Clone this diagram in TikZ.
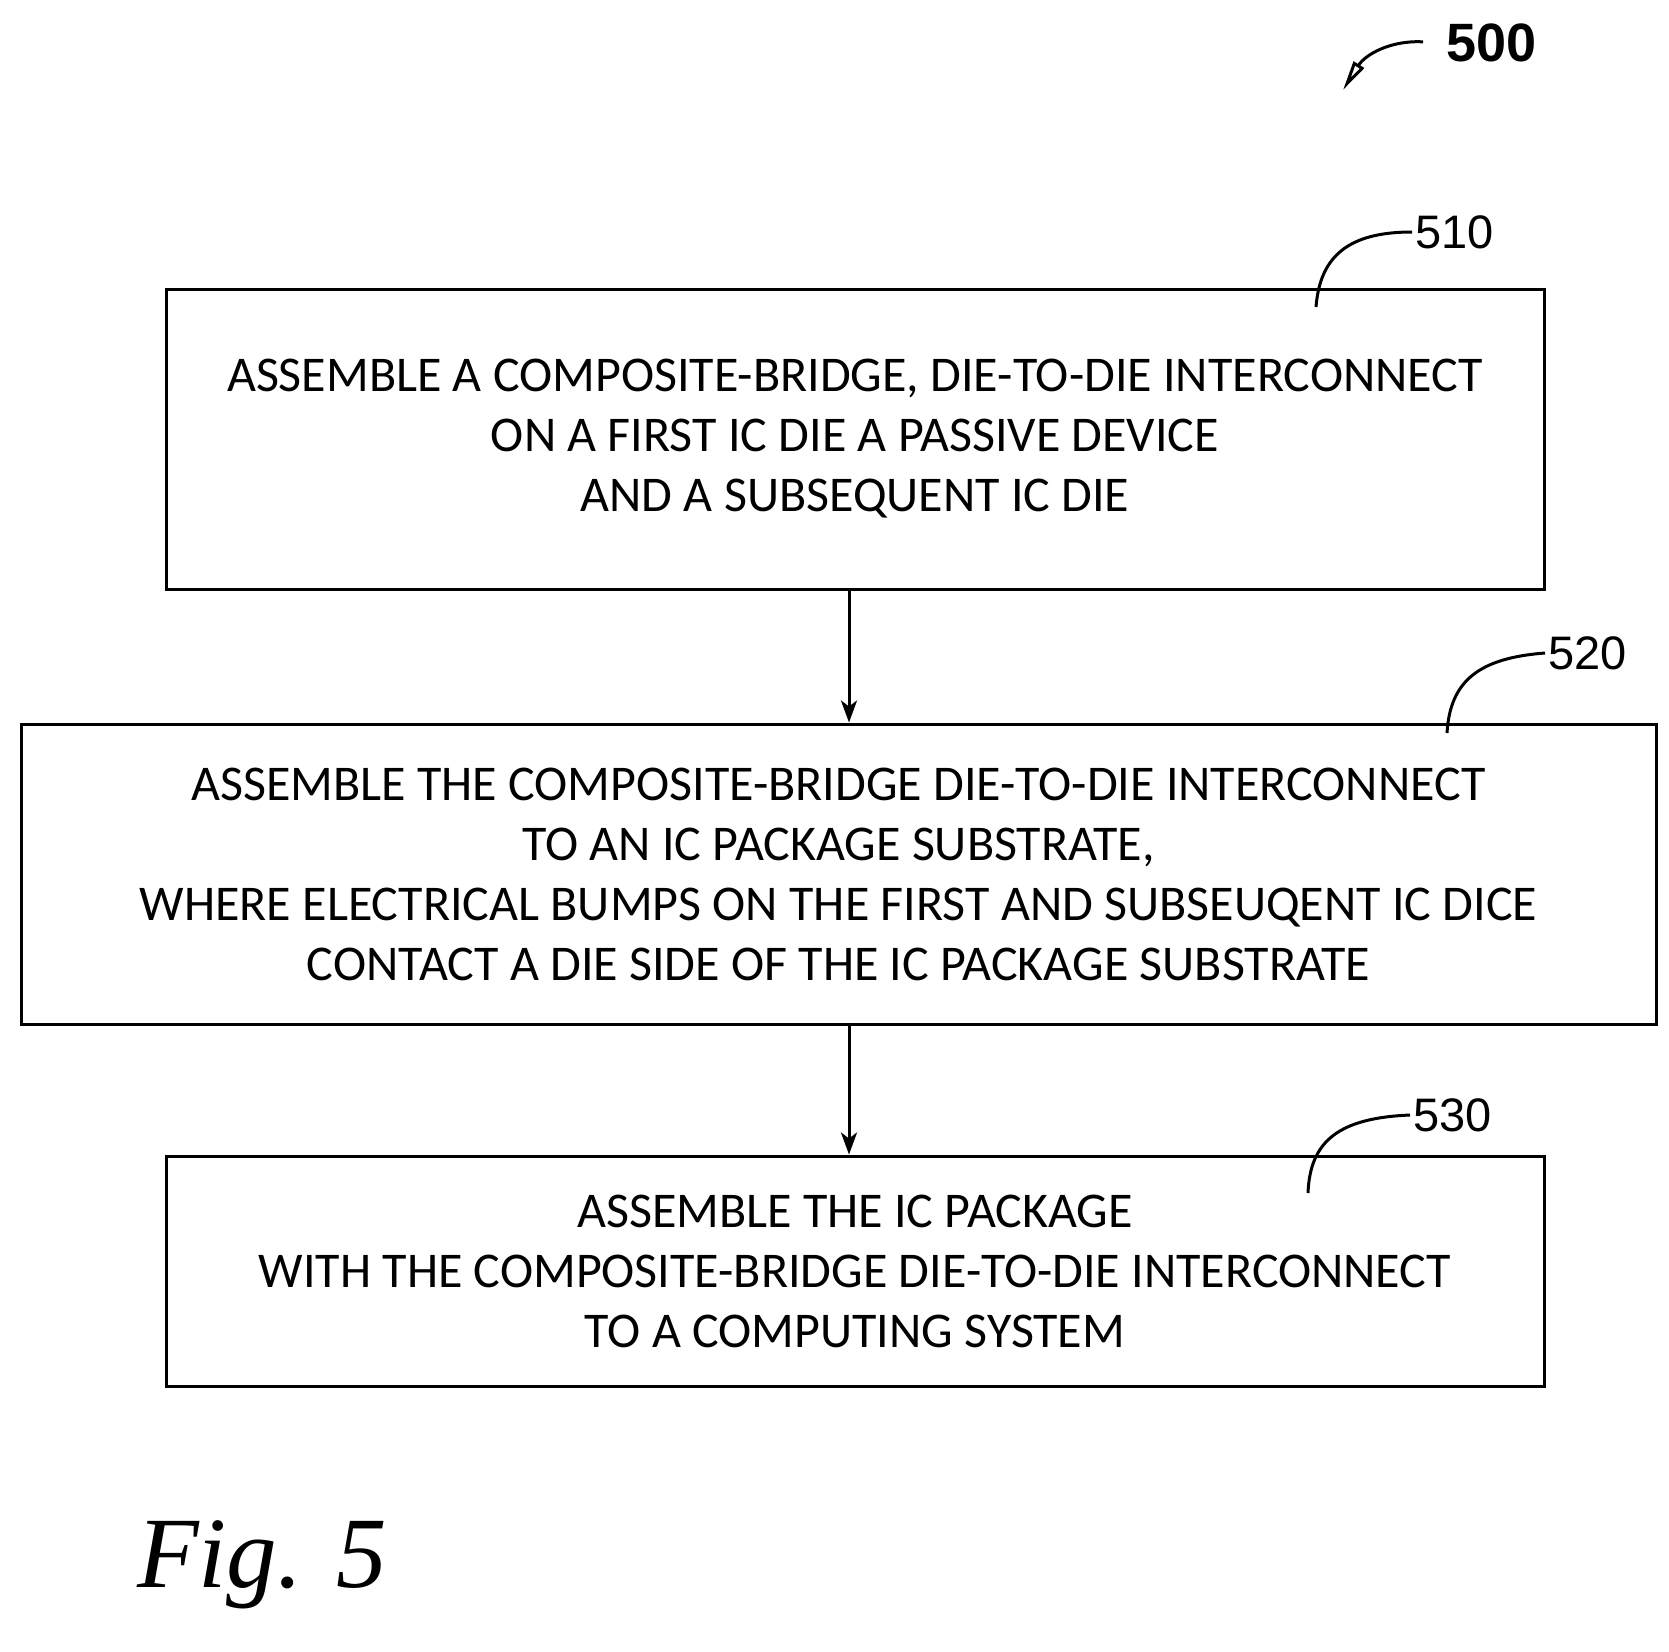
\documentclass[tikz,border=0pt]{standalone}
\usepackage{fontspec}
\setmainfont{Carlito}
\newfontfamily\labelfont{Liberation Sans}
\newfontfamily\figfont{Liberation Serif}
\usetikzlibrary{arrows.meta, positioning}

\begin{document}
\begin{tikzpicture}[
   x=1pt, y=-1pt,
   line width=3pt,
   stepbox/.style={
     draw,
     align=center,
     inner sep=0pt,
     font=\fontsize{50}{60}\selectfont,
    },
   ref/.style={
     font=\labelfont\fontsize{47}{50}\selectfont,
     inner sep=2pt,
    },
  ]
\useasboundingbox (0,0) rectangle (1669,1651);

\node[stepbox, minimum width=1378pt, minimum height=300pt] (s510) at (855,439)
  {ASSEMBLE A COMPOSITE-BRIDGE, DIE-TO-DIE INTERCONNECT\\
   ON A FIRST IC DIE A PASSIVE DEVICE\\
   AND A SUBSEQUENT IC DIE};
\node[stepbox, minimum width=1635pt, minimum height=300pt] (s520) at (838.5,874)
  {ASSEMBLE THE COMPOSITE-BRIDGE DIE-TO-DIE INTERCONNECT\\
   TO AN IC PACKAGE SUBSTRATE,\\
   WHERE ELECTRICAL BUMPS ON THE FIRST AND SUBSEUQENT IC DICE\\
   CONTACT A DIE SIDE OF THE IC PACKAGE SUBSTRATE};
\node[stepbox, minimum width=1378pt, minimum height=230pt] (s530) at (855,1271)
  {ASSEMBLE THE IC PACKAGE\\
   WITH THE COMPOSITE-BRIDGE DIE-TO-DIE INTERCONNECT\\
   TO A COMPUTING SYSTEM};

\draw[-{Stealth[length=22pt,width=16pt,inset=6pt]}] (s510.south -| 849,0) -- (s520.north -| 849,0);
\draw[-{Stealth[length=22pt,width=16pt,inset=6pt]}] (s520.south -| 849,0) -- (s530.north -| 849,0);

% reference numerals
\node[ref, anchor=west] (n510) at (1412,232) {510};
\node[ref, anchor=west] (n520) at (1545,653) {520};
\node[ref, anchor=west] (n530) at (1410,1115) {530};
\node[ref, anchor=west, font=\labelfont\bfseries\fontsize{54}{56}\selectfont] (n500) at (1443,43) {500};
\draw (n510.west) .. controls (1350,232) and (1320,255) .. (1316,307);
\draw (n520.west) .. controls (1480,658) and (1450,680) .. (1447,733);
\draw (n530.west) .. controls (1340,1118) and (1310,1140) .. (1308,1193);
\draw[shorten <=20pt, -{Triangle[open,length=30pt,width=12pt]}] (n500.west) .. controls (1390,40) and (1365,55) .. (1343,90);

\node[font=\figfont\itshape\fontsize{101}{110}\selectfont] (fig) at (262,1565) {Fig. 5};
\end{tikzpicture}
\end{document}
